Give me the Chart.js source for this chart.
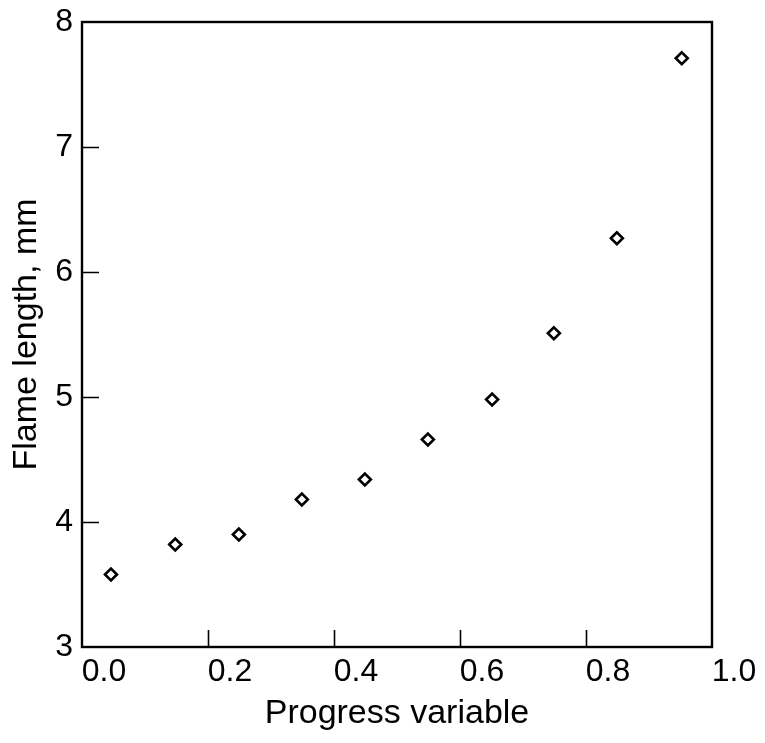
<!DOCTYPE html>
<html>
<head>
<meta charset="utf-8">
<title>Flame length vs progress variable</title>
<script src="https://cdn.jsdelivr.net/npm/chart.js@4"></script>
<style>
  html, body { margin: 0; padding: 0; background: #fff; }
  canvas { display: block; }
</style>
</head>
<body>
<canvas id="flameChart" width="765" height="743"></canvas>
<script>
// --- Data ---
const progress = [0.046, 0.148, 0.249, 0.349, 0.449, 0.549, 0.651, 0.749, 0.849, 0.952];
const flameLength = [3.58, 3.82, 3.90, 4.18, 4.34, 4.66, 4.98, 5.51, 6.27, 7.71];
const xTicks = [0.0, 0.2, 0.4, 0.6, 0.8, 1.0];
const yTicks = [3, 4, 5, 6, 7, 8];

const FONT = "'Liberation Sans', Arial, Helvetica, sans-serif";

// box around the plot + short tick marks pointing inward
const frameTicks = {
  id: 'frameTicks',
  afterDatasetsDraw(chart) {
    const { ctx, chartArea: a, scales } = chart;
    ctx.save();
    ctx.strokeStyle = '#000';
    ctx.lineWidth = 1.6;
    ctx.beginPath();
    xTicks.slice(1, -1).forEach(v => {
      const px = Math.round(scales.x.getPixelForValue(v)) + 0.5;
      ctx.moveTo(px, a.bottom);
      ctx.lineTo(px, a.bottom - 17);
    });
    yTicks.slice(1, -1).forEach(v => {
      const py = Math.round(scales.y.getPixelForValue(v)) + 0.5;
      ctx.moveTo(a.left, py);
      ctx.lineTo(a.left + 17, py);
    });
    ctx.stroke();
    ctx.lineWidth = 2.4;
    ctx.strokeRect(a.left, a.top, a.right - a.left, a.bottom - a.top);
    ctx.restore();
  }
};

const ctx = document.getElementById('flameChart').getContext('2d');
new Chart(ctx, {
  type: 'scatter',
  data: {
    datasets: [{
      label: 'Flame length',
      data: progress.map((x, i) => ({ x: x, y: flameLength[i] })),
      pointStyle: 'rectRot',
      pointRadius: 6,
      pointBorderWidth: 2.6,
      pointBorderColor: '#000',
      pointBackgroundColor: '#fff'
    }]
  },
  options: {
    responsive: false,
    animation: false,
    layout: { padding: { top: 22, right: 53, left: 0, bottom: 0 } },
    plugins: {
      legend: { display: false },
      tooltip: { enabled: false }
    },
    scales: {
      x: {
        type: 'linear',
        min: 0, max: 1,
        afterBuildTicks: s => { s.ticks = xTicks.map(v => ({ value: v })); },
        afterFit: s => { s.height = 96; s.paddingLeft = 0; s.paddingRight = 0; },
        grid: { display: false, drawTicks: false },
        border: { display: false },
        ticks: {
          color: '#000',
          font: { family: FONT, size: 32 },
          padding: 6,
          labelOffset: 22,
          maxRotation: 0,
          callback: v => v.toFixed(1)
        },
        title: {
          display: true,
          text: 'Progress variable',
          color: '#000',
          font: { family: FONT, size: 34 },
          padding: { top: 0, bottom: 9 }
        }
      },
      y: {
        type: 'linear',
        min: 3, max: 8,
        afterBuildTicks: s => { s.ticks = yTicks.map(v => ({ value: v })); },
        afterFit: s => { s.width = 82; s.paddingTop = 0; s.paddingBottom = 0; },
        grid: { display: false, drawTicks: false },
        border: { display: false },
        ticks: {
          color: '#000',
          font: { family: FONT, size: 32 },
          padding: 9,
          callback: v => String(v)
        },
        title: {
          display: true,
          text: 'Flame length, mm',
          color: '#000',
          font: { family: FONT, size: 34 },
          padding: { top: 6, bottom: 0 }
        }
      }
    }
  },
  plugins: [frameTicks]
});
</script>
</body>
</html>
